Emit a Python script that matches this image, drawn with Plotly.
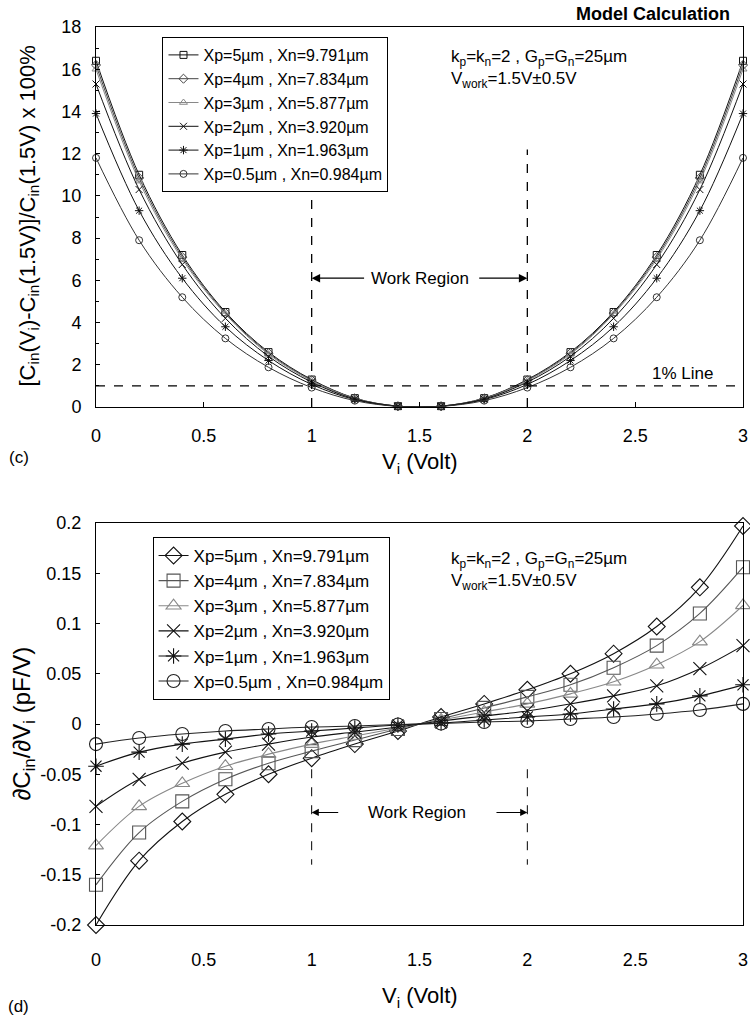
import plotly.graph_objects as go

# ---------------- data ----------------
vi = [0.0, 0.2, 0.4, 0.6, 0.8, 1.0, 1.2, 1.4, 1.6, 1.8, 2.0, 2.2, 2.4, 2.6, 2.8, 3.0]

labels = ["Xp=5µm , Xn=9.791µm", "Xp=4µm , Xn=7.834µm", "Xp=3µm , Xn=5.877µm",
          "Xp=2µm , Xn=3.920µm", "Xp=1µm , Xn=1.963µm", "Xp=0.5µm , Xn=0.984µm"]

# (c) relative change of Cin, %
c_xp5 = [16.4, 11.0, 7.2, 4.5, 2.6, 1.30, 0.42, 0.04, 0.04, 0.42, 1.30, 2.6, 4.5, 7.2, 11.0, 16.4]
c_xp4 = [16.2, 10.85, 7.1, 4.45, 2.55, 1.27, 0.41, 0.04, 0.04, 0.41, 1.27, 2.55, 4.45, 7.1, 10.85, 16.2]
c_xp3 = [16.0, 10.7, 7.0, 4.4, 2.5, 1.24, 0.40, 0.04, 0.04, 0.40, 1.24, 2.5, 4.4, 7.0, 10.7, 16.0]
c_xp2 = [15.3, 10.3, 6.75, 4.2, 2.4, 1.18, 0.38, 0.04, 0.04, 0.38, 1.18, 2.4, 4.2, 6.75, 10.3, 15.3]
c_xp1 = [13.9, 9.3, 6.1, 3.8, 2.2, 1.07, 0.35, 0.035, 0.035, 0.35, 1.07, 2.2, 3.8, 6.1, 9.3, 13.9]
c_xp05 = [11.8, 7.9, 5.2, 3.25, 1.88, 0.92, 0.30, 0.03, 0.03, 0.30, 0.92, 1.88, 3.25, 5.2, 7.9, 11.8]

# (d) dCin/dVi, pF/V
d_xp5 = [-0.200, -0.136, -0.097, -0.070, -0.050, -0.034, -0.020, -0.007, 0.007, 0.020, 0.034, 0.050, 0.070, 0.097, 0.136, 0.197]
d_xp4 = [-0.160, -0.108, -0.077, -0.055, -0.039, -0.027, -0.016, -0.005, 0.005, 0.016, 0.027, 0.039, 0.056, 0.078, 0.110, 0.156]
d_xp3 = [-0.121, -0.082, -0.059, -0.042, -0.030, -0.020, -0.012, -0.004, 0.004, 0.012, 0.020, 0.030, 0.042, 0.059, 0.082, 0.118]
d_xp2 = [-0.082, -0.055, -0.039, -0.028, -0.020, -0.013, -0.008, -0.003, 0.003, 0.008, 0.013, 0.020, 0.028, 0.038, 0.055, 0.078]
d_xp1 = [-0.042, -0.028, -0.020, -0.015, -0.010, -0.007, -0.004, -0.001, 0.001, 0.004, 0.007, 0.010, 0.015, 0.020, 0.028, 0.039]
d_xp05 = [-0.020, -0.014, -0.010, -0.007, -0.005, -0.003, -0.002, -0.0005, 0.0005, 0.002, 0.003, 0.005, 0.007, 0.010, 0.014, 0.020]

x_ticks = [0, 0.5, 1, 1.5, 2, 2.5, 3]
x_tick_text = ["0", "0.5", "1", "1.5", "2", "2.5", "3"]
c_ticks = [0, 2, 4, 6, 8, 10, 12, 14, 16, 18]
d_ticks = [-0.2, -0.15, -0.1, -0.05, 0, 0.05, 0.1, 0.15, 0.2]
d_tick_text = ["-0.2", "-0.15", "-0.1", "-0.05", "0", "0.05", "0.1", "0.15", "0.2"]

# ---------------- layout helpers ----------------
W, H = 750, 1020
L, R, T, B = 96, 2, 27, 95
PW, PH = W - L - R, H - T - B


def px(x):
    return (x - L) / PW


def py(y):
    return (H - B - y) / PH


FONT = "Liberation Sans, Arial, Helvetica, sans-serif"
top_dom = [py(407), 1.0]
bot_dom = [0.0, py(523)]

fig = go.Figure()

c_series = [c_xp5, c_xp4, c_xp3, c_xp2, c_xp1, c_xp05]
c_symbols = ["square-open", "diamond-open", "triangle-up-open", "x-thin-open", "asterisk-open", "circle-open"]
c_colors = ["#111111", "#444444", "#888888", "#111111", "#111111", "#333333"]
for lab, ys, sym, col in zip(labels, c_series, c_symbols, c_colors):
    fig.add_trace(go.Scatter(
        x=vi, y=ys, name=lab, mode="lines+markers", xaxis="x", yaxis="y",
        legend="legend", cliponaxis=False,
        line=dict(color=col, width=1, shape="spline", smoothing=1.0),
        marker=dict(symbol=sym, size=7, color=col, line=dict(color=col, width=1)),
    ))

d_series = [d_xp5, d_xp4, d_xp3, d_xp2, d_xp1, d_xp05]
d_symbols = ["diamond-open", "square-open", "triangle-up-open", "x-thin-open", "asterisk-open", "circle-open"]
d_colors = ["#111111", "#555555", "#888888", "#111111", "#111111", "#222222"]
for lab, ys, sym, col in zip(labels, d_series, d_symbols, d_colors):
    fig.add_trace(go.Scatter(
        x=vi, y=ys, name=lab, mode="lines+markers", xaxis="x2", yaxis="y2",
        legend="legend2", cliponaxis=False,
        line=dict(color=col, width=1.1, shape="spline", smoothing=1.0),
        marker=dict(symbol=sym, size=13, color=col, line=dict(color=col, width=1.1)),
    ))

axis_common = dict(showgrid=False, zeroline=False, showline=True, linecolor="black",
                   linewidth=1, mirror=True, ticklabeloverflow="allow",
                   tickfont=dict(family=FONT, size=18, color="black"))

zero_pos = bot_dom[0] + (0 - (-0.2)) / 0.4 * (bot_dom[1] - bot_dom[0])

fig.update_layout(
    width=W, height=H, paper_bgcolor="white", plot_bgcolor="white",
    margin=dict(l=L, r=R, t=T, b=B),
    font=dict(family=FONT, color="black"),
    xaxis=dict(domain=[0, 1], anchor="y", range=[0, 3], tickvals=x_ticks, ticktext=x_tick_text,
               ticks="inside", ticklen=5, tickcolor="black", ticklabelstandoff=12, **axis_common),
    yaxis=dict(domain=top_dom, anchor="x", range=[0, 18], tickvals=c_ticks,
               ticks="inside", ticklen=4, tickcolor="black", ticklabelstandoff=10,
               minor=dict(dtick=1, ticks="inside", ticklen=3, tickcolor="black"), **axis_common),
    xaxis2=dict(domain=[0, 1], anchor="y2", range=[0, 3], tickvals=x_ticks, ticktext=x_tick_text,
                ticks="", ticklabelstandoff=18, **axis_common),
    yaxis2=dict(domain=bot_dom, anchor="x2", range=[-0.2, 0.2], tickvals=d_ticks, ticktext=d_tick_text,
                ticks="inside", ticklen=4, tickcolor="black", ticklabelstandoff=10, **axis_common),
    xaxis3=dict(overlaying="x2", anchor="free", position=zero_pos, range=[0, 3], tickvals=x_ticks,
                showticklabels=False, ticks="inside", ticklen=5, tickcolor="black",
                showline=True, linecolor="black", linewidth=1, showgrid=False, zeroline=False),
    legend=dict(x=px(163), y=py(37), xanchor="left", yanchor="top", bgcolor="white",
                bordercolor="black", borderwidth=1, font=dict(family=FONT, size=16, color="black"),
                tracegroupgap=0, itemwidth=30),
    legend2=dict(x=px(153), y=py(537), xanchor="left", yanchor="top", bgcolor="white",
                 bordercolor="black", borderwidth=1, font=dict(family=FONT, size=17, color="black"),
                 tracegroupgap=0, itemwidth=30),
    showlegend=True,
)

dash_line = dict(color="black", width=1.3, dash="dash")
shapes = [
    dict(type="line", xref="x", yref="y", x0=1, x1=1, y0=0, y1=12.2, line=dash_line),
    dict(type="line", xref="x", yref="y", x0=2, x1=2, y0=0, y1=12.2, line=dash_line),
    dict(type="line", xref="x", yref="y", x0=0, x1=3, y0=1, y1=1, line=dash_line),
    dict(type="line", xref="x2", yref="y2", x0=1, x1=1, y0=-0.045, y1=-0.14,
         line=dict(color="black", width=1, dash="dash")),
    dict(type="line", xref="x2", yref="y2", x0=2, x1=2, y0=-0.045, y1=-0.14,
         line=dict(color="black", width=1, dash="dash")),
]
fig.update_layout(shapes=shapes)

ann = []
f17 = dict(family=FONT, size=17, color="black")


def note(x, y, text, font, xanchor="center", yanchor="middle", **kw):
    return dict(xref="paper", yref="paper", x=x, y=y, text=text, showarrow=False, font=font,
                xanchor=xanchor, yanchor=yanchor, **kw)


ann.append(note(px(737), py(14), "<b>Model Calculation</b>", dict(family=FONT, size=18, color="black"),
                xanchor="right"))
for yy0, yy1 in [(58, 80), (560, 582)]:
    ann.append(note(px(452), py(yy0), "k<sub>p</sub>=k<sub>n</sub>=2 , G<sub>p</sub>=G<sub>n</sub>=25µm",
                    f17, xanchor="left"))
    ann.append(note(px(452), py(yy1), "V<sub>work</sub>=1.5V±0.5V", f17, xanchor="left"))

# Work Region (c)
ann.append(dict(xref="x", yref="y", x=1.5, y=6.1, text="Work Region", showarrow=False, font=f17,
                xanchor="center", yanchor="middle"))
ann.append(dict(xref="x", yref="y", axref="x", ayref="y", x=1.0, y=6.1, ax=1.25, ay=6.1, text="",
                showarrow=True, arrowhead=2, arrowsize=1.3, arrowwidth=1.3, arrowcolor="black"))
ann.append(dict(xref="x", yref="y", axref="x", ayref="y", x=2.0, y=6.1, ax=1.77, ay=6.1, text="",
                showarrow=True, arrowhead=2, arrowsize=1.3, arrowwidth=1.3, arrowcolor="black"))
ann.append(dict(xref="x", yref="y", x=2.72, y=1.6, text="1% Line", showarrow=False, font=f17,
                xanchor="center", yanchor="middle"))

# Work Region (d)
ann.append(dict(xref="x2", yref="y2", x=1.49, y=-0.088, text="Work Region", showarrow=False, font=f17,
                xanchor="center", yanchor="middle"))
ann.append(dict(xref="x2", yref="y2", axref="x2", ayref="y2", x=1.0, y=-0.088, ax=1.13, ay=-0.088, text="",
                showarrow=True, arrowhead=2, arrowsize=1.3, arrowwidth=1.1, arrowcolor="black"))
ann.append(dict(xref="x2", yref="y2", axref="x2", ayref="y2", x=2.0, y=-0.088, ax=1.85, ay=-0.088, text="",
                showarrow=True, arrowhead=2, arrowsize=1.3, arrowwidth=1.1, arrowcolor="black"))

# axis titles and panel labels
f22 = dict(family=FONT, size=22, color="black")
ann.append(note(px(28), py(216),
                "[C<sub>in</sub>(V<sub>i</sub>)-C<sub>in</sub>(1.5V)]/C<sub>in</sub>(1.5V) x 100%",
                f22, textangle=-90))
ann.append(note(px(22), py(724), "∂C<sub>in</sub>/∂V<sub>i</sub> (pF/V)",
                dict(family=FONT, size=24, color="black"), textangle=-90))
ann.append(note(px(422), py(463), "V<sub>i</sub> (Volt)", f22))
ann.append(note(px(422), py(997), "V<sub>i</sub> (Volt)", f22))
ann.append(note(px(18), py(457), "(c)", dict(family=FONT, size=17, color="black")))
ann.append(note(px(18), py(1007), "(d)", dict(family=FONT, size=17, color="black")))
fig.update_layout(annotations=ann)

fig.write_html("out.html", config={"displayModeBar": False},
               post_script="document.body.style.margin='0';document.body.style.overflow='hidden';")
